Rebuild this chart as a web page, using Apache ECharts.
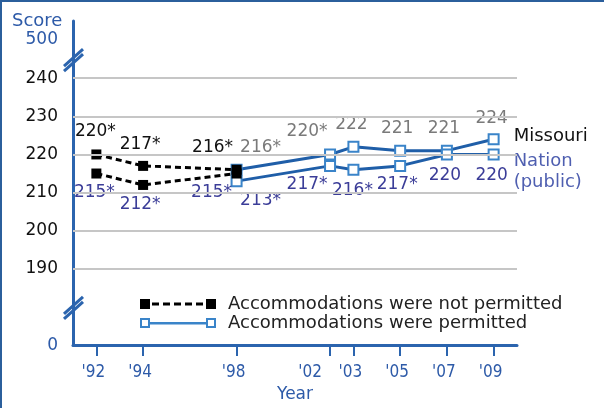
<!DOCTYPE html>
<html>
<head>
<meta charset="utf-8">
<script src="https://cdn.jsdelivr.net/npm/echarts@6/dist/echarts.min.js"></script>
<style>
html, body { margin: 0; padding: 0; background: #fff; overflow: hidden; }
#chart { position: absolute; left: 0; top: 0; width: 604px; height: 408px; }
.bar { position: absolute; background: #2b5f9c; pointer-events: none; }
</style>
</head>
<body>
<div id="chart"></div>
<div class="bar" style="left:0;top:0;width:604px;height:2px"></div>
<div class="bar" style="left:0;top:0;width:2px;height:408px"></div>
<script>
// years on the x axis
var years = [1992, 1994, 1998, 2002, 2003, 2005, 2007, 2009];
var yearsNotPermitted = [1992, 1994, 1998];
var yearsPermitted = [1998, 2002, 2003, 2005, 2007, 2009];

// scores (1 = significantly different from 2009, shown with *)
var missouriNotPermitted = [220, 217, 216];
var missouriNotPermittedSig = [1, 1, 1];
var nationNotPermitted = [215, 212, 215];
var nationNotPermittedSig = [1, 1, 1];
var missouriPermitted = [216, 220, 222, 221, 221, 224];
var missouriPermittedSig = [1, 1, 0, 0, 0, 0];
var nationPermitted = [213, 217, 216, 217, 220, 220];
var nationPermittedSig = [1, 1, 1, 1, 0, 0];

// y axis ticks
var scoreTicks = [190, 200, 210, 220, 230, 240];
var axisLow = 170, axisHigh = 250;      // where the broken ends sit
var axisLowLabel = '0', axisHighLabel = '500';
var breakVals = [245, 180];

// label offsets (placement only)
var offMoNP = [[-1, -23], [-3, -21], [-24, -22]];
var offNaNP = [[-2, 19], [-3, 20], [-25, 19]];
var offMoP = [[24, -22], [-23, -23], [-2, -22], [-3, -22], [-3, -22], [-2, -21]];
var offNaP = [[24, 19], [-23, 19], [-1, 21], [-3, 19], [-2, 21], [-2, 21]];
var yearLabelShift = { 2002: 20 };

var FONT = 'DejaVu Sans';
var BLUE = '#2b64ae';
var LABEL_BLUE = '#2d5aa8';
var NATION_BLUE = '#3b3d98';
var NAME_NP = 'Accommodations were not permitted';
var NAME_P = 'Accommodations were permitted';

function points(xs, vals, sig, offs) {
    var out = [];
    for (var i = 0; i < vals.length; i++) {
        out.push({
            value: [xs[i], vals[i]],
            label: { offset: offs[i], formatter: vals[i] + (sig[i] ? '*' : '') }
        });
    }
    return out;
}

function lbl(color) {
    return { show: true, position: 'inside', color: color, fontSize: 17, fontFamily: FONT };
}

var dashIcon = 'path://M0 0H10V10H0Z M12 3.5H19V6.5H12Z M23 3.5H30V6.5H23Z M34 3.5H41V6.5H34Z M45 3.5H52V6.5H45Z M56 3.5H63V6.5H56Z M66 0H76V10H66Z';
var solidIcon = 'path://M0 0H10V10H0Z M2 2V8H8V2Z M10 4H66V6.5H10Z M66 0H76V10H66Z M68 2V8H74V2Z';

var chart = echarts.init(document.getElementById('chart'));
var gridLines = [];
for (var i = 0; i < scoreTicks.length; i++) gridLines.push({ yAxis: scoreTicks[i] });

var yearRich = {};
years.forEach(function (y) {
    var s = (yearLabelShift[y] || 3) * 2;
    yearRich['y' + y] = { color: LABEL_BLUE, fontSize: 17, fontFamily: 'DejaVu Sans Condensed, DejaVu Sans', padding: [0, s, 0, 0] };
});

var option = {
    animation: false,
    title: {
        text: 'Score', left: 12, top: 12, padding: 0,
        textStyle: { color: LABEL_BLUE, fontSize: 18, fontWeight: 'normal', fontFamily: FONT }
    },
    grid: { left: 73, right: 87, top: 21, bottom: 57 },
    legend: {
        orient: 'vertical', left: 140, top: 295, padding: 0, itemWidth: 76, itemHeight: 10, itemGap: 1,
        textStyle: { fontSize: 18, color: '#222', fontFamily: FONT, padding: [0, 0, 0, 7] },
        data: [
            { name: NAME_NP, icon: dashIcon, itemStyle: { color: '#000', borderWidth: 0 } },
            { name: NAME_P, icon: solidIcon, itemStyle: { color: '#3a84c9', borderWidth: 0 } }
        ]
    },
    xAxis: {
        type: 'value', min: 1991, max: 2010,
        splitLine: { show: false },
        axisLine: { onZero: false, lineStyle: { color: BLUE, width: 3 } },
        axisTick: { customValues: years, length: 11, lineStyle: { color: BLUE, width: 2 } },
        axisLabel: {
            customValues: years, margin: 19, rich: yearRich,
            formatter: function (v) { return '{y' + v + "|'" + String(v).slice(2) + '}'; }
        },
        name: 'Year', nameLocation: 'middle', nameGap: 40,
        nameTextStyle: { color: LABEL_BLUE, fontSize: 17, fontFamily: FONT }
    },
    yAxis: {
        type: 'value', min: 170, max: 255,
        splitLine: { show: false },
        axisLine: { show: true, lineStyle: { color: BLUE, width: 3 } },
        axisTick: { show: false },
        axisLabel: {
            customValues: [axisLow].concat(scoreTicks, [axisHigh]),
            fontSize: 17, fontFamily: FONT, margin: 15,
            formatter: function (v) {
                if (v === axisLow) return axisLowLabel;
                if (v === axisHigh) return axisHighLabel;
                return v;
            },
            color: function (v) {
                v = Number(v);
                return (v === axisLow || v === axisHigh) ? LABEL_BLUE : '#111';
            }
        }
    },
    series: [
        {
            type: 'line', data: [], silent: true, z: 1,
            markLine: {
                silent: true, symbol: 'none', label: { show: false },
                lineStyle: { color: '#c6c6c6', width: 2, type: 'solid' },
                data: gridLines
            }
        },
        {
            name: NAME_P, type: 'line', z: 3,
            data: points(yearsPermitted, missouriPermitted, missouriPermittedSig, offMoP),
            symbol: 'rect', symbolSize: 10,
            lineStyle: { color: '#1f5ea8', width: 3 },
            itemStyle: { color: '#fff', borderColor: '#3a84c9', borderWidth: 2 },
            label: lbl('#7a7a7a'),
            endLabel: { show: true, formatter: 'Missouri', color: '#111', fontSize: 18, fontFamily: FONT, distance: 20, offset: [0, -3] }
        },
        {
            name: NAME_P, type: 'line', z: 3,
            data: points(yearsPermitted, nationPermitted, nationPermittedSig, offNaP),
            symbol: 'rect', symbolSize: 10,
            lineStyle: { color: '#1f5ea8', width: 3 },
            itemStyle: { color: '#fff', borderColor: '#3a84c9', borderWidth: 2 },
            label: lbl(NATION_BLUE),
            endLabel: { show: true, formatter: 'Nation\n(public)', color: '#4f5fb0', fontSize: 18, lineHeight: 21, fontFamily: FONT, distance: 20, offset: [0, 17] }
        },
        {
            name: NAME_NP, type: 'line', z: 4,
            data: points(yearsNotPermitted, missouriNotPermitted, missouriNotPermittedSig, offMoNP),
            symbol: 'rect', symbolSize: 10,
            lineStyle: { color: '#000', width: 3, type: [6, 4] },
            itemStyle: { color: '#000' },
            label: lbl('#111')
        },
        {
            name: NAME_NP, type: 'line', z: 4,
            data: points(yearsNotPermitted, nationNotPermitted, nationNotPermittedSig, offNaNP),
            symbol: 'rect', symbolSize: 10,
            lineStyle: { color: '#000', width: 3, type: [6, 4] },
            itemStyle: { color: '#000' },
            label: lbl(NATION_BLUE)
        }
    ]
};
chart.setOption(option);

// axis break marks
var gx = chart.convertToPixel({ xAxisIndex: 0 }, 1991);
var marks = breakVals.map(function (v) {
    var gy = chart.convertToPixel({ yAxisIndex: 0 }, v);
    var st = { stroke: BLUE, lineWidth: 3 };
    return {
        type: 'group', x: gx, y: gy, z: 10,
        children: [
            { type: 'line', shape: { x1: -9, y1: 7, x2: 10, y2: -10 }, style: st },
            { type: 'line', shape: { x1: -9, y1: 12, x2: 10, y2: -5 }, style: st }
        ]
    };
});
chart.setOption({ graphic: marks });
</script>
</body>
</html>
